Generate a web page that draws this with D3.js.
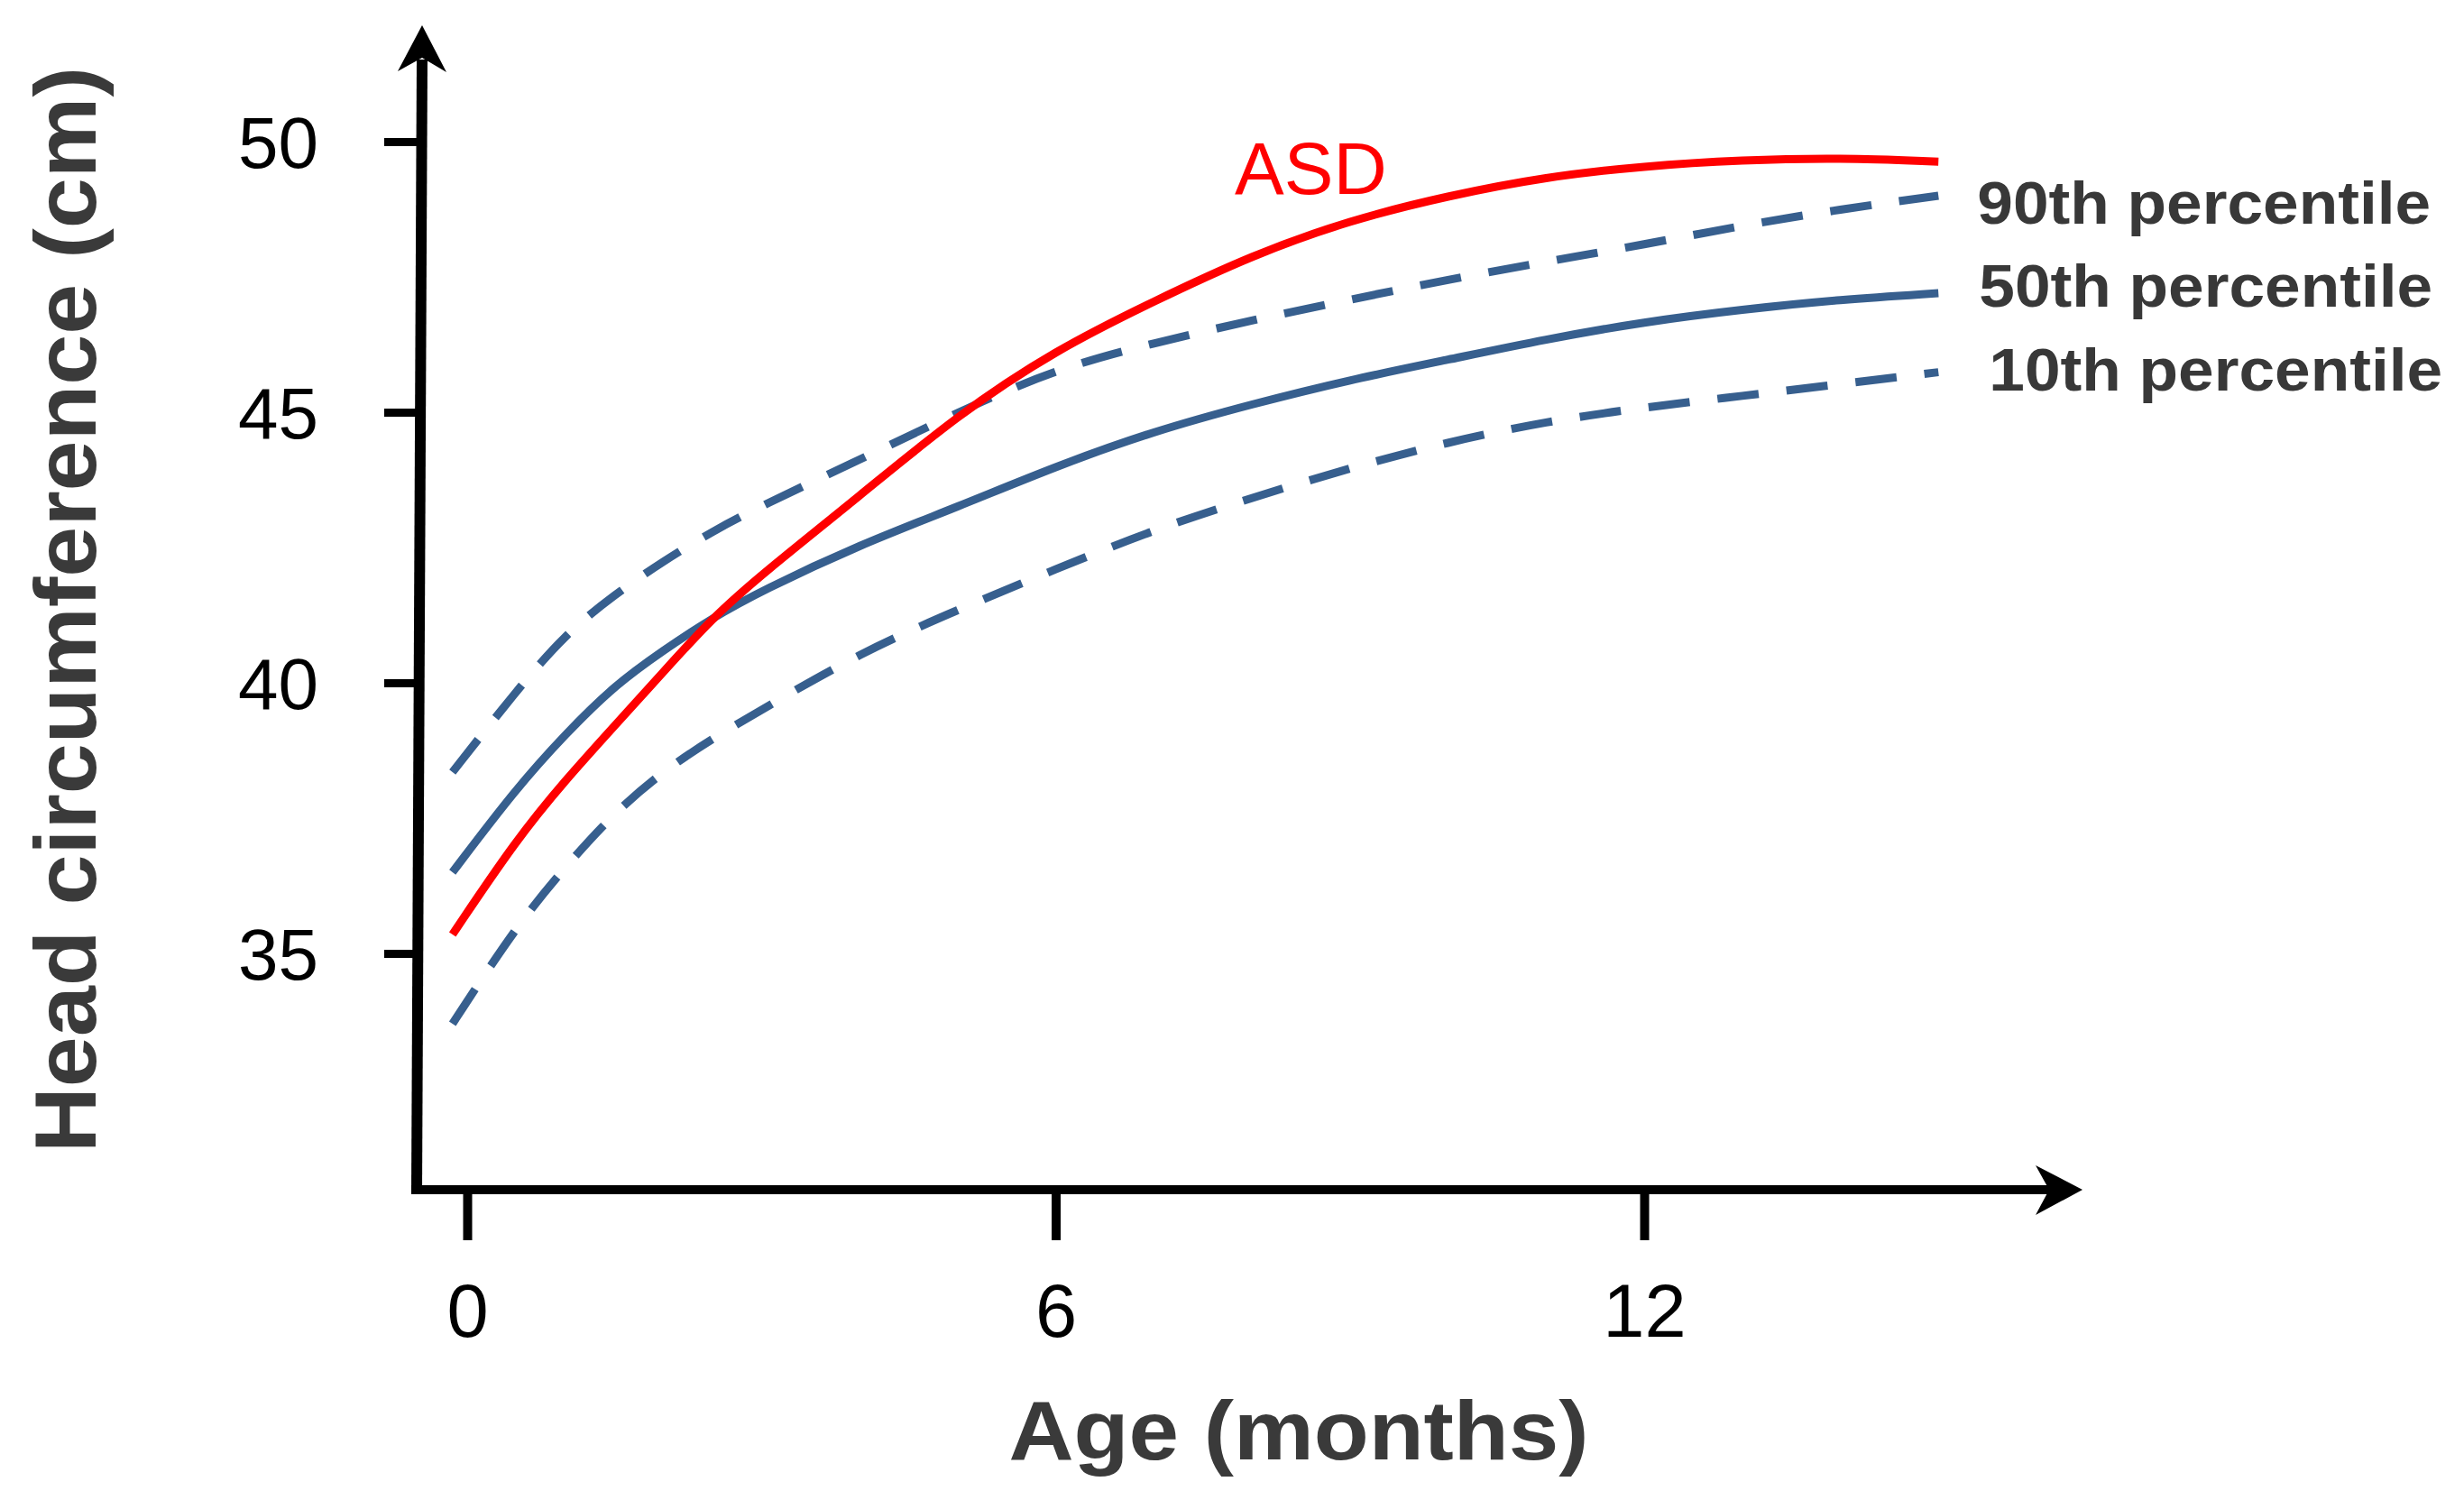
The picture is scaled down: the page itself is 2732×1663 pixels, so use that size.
<!DOCTYPE html>
<html lang="en">
<head>
    <meta charset="UTF-8">
    <title>Head circumference growth</title>
    <script src="https://d3js.org/d3.v7.min.js"></script>
    <style>
        body {
            margin: 0;
            background: #fff;
        }

        text {
            font-family: "Liberation Sans", Arial, sans-serif;
        }

        .tick line {
            stroke: #000;
        }

        .tick text {
            fill: #000;
        }
    </style>
</head>
<body>
<script>
    const months = [-0.15, 0.5, 1, 1.5, 2, 2.5, 3, 4, 5, 6, 7, 8, 9, 10, 11, 12, 13, 14, 15];

    //head circumference (cm)
    const asd = [35.35, 37.1, 38.2, 39.2, 40.2, 41.2, 42.0, 43.45, 44.95, 46.15, 47.05, 47.9, 48.55, 49.0, 49.35, 49.55, 49.66, 49.7, 49.63];
    const p90 = [38.35, 39.85, 40.9, 41.63, 42.25, 42.8, 43.27, 44.12, 45.0, 45.8, 46.28, 46.7, 47.08, 47.45, 47.78, 48.1, 48.45, 48.75, 49.0];
    const p50 = [36.5, 38.05, 39.05, 39.95, 40.6, 41.2, 41.7, 42.55, 43.25, 44.0, 44.65, 45.15, 45.6, 45.97, 46.35, 46.67, 46.9, 47.08, 47.2];
    const p10 = [33.7, 35.5, 36.6, 37.6, 38.37, 38.97, 39.5, 40.55, 41.35, 42.1, 42.83, 43.42, 43.97, 44.45, 44.83, 45.09, 45.3, 45.52, 45.74];

    //tick labels
    const xTicks = [0, 6, 12];
    const yTicks = [35, 40, 45, 50];

    const seriesNames = ['ASD', '90th percentile', '50th percentile', '10th percentile'];

    const width = 2732;
    const height = 1663;
    const blue = '#375f8e';

    const svg = d3.select('body').append('svg')
        .attr('width', width)
        .attr('height', height);

    svg.append('rect').attr('width', width).attr('height', height).attr('fill', '#fff');

    //scales
    const x = d3.scaleLinear().domain([0, 12]).range([518, 1823]);
    const y = d3.scaleLinear().domain([35, 50]).range([1057, 157]);

    const axisY = 1319;   //x axis sits here
    const axisX = 465;    //y axis sits here

    //y axis ticks + labels
    const gy = svg.append('g')
        .attr('transform', 'translate(' + (axisX - 1) + ',0)')
        .call(d3.axisLeft(y).tickValues(yTicks).tickSize(38).tickPadding(73));
    gy.select('.domain').remove();
    gy.selectAll('.tick line').attr('stroke-width', 9);
    gy.selectAll('.tick text').attr('font-size', 80).attr('dy', '0.36em');

    //x axis ticks + labels
    const gx = svg.append('g')
        .attr('transform', 'translate(0,' + axisY + ')')
        .call(d3.axisBottom(x).tickValues(xTicks).tickSize(56).tickPadding(48));
    gx.select('.domain').remove();
    gx.selectAll('.tick line').attr('stroke-width', 10);
    gx.selectAll('.tick text').attr('font-size', 83);

    //axis lines with arrow heads (slightly leaning y axis like the drawing)
    svg.append('path')
        .attr('d', 'M462,1324 L468,66')
        .attr('stroke', '#000').attr('stroke-width', 12).attr('fill', 'none');
    svg.append('path')
        .attr('d', 'M456,' + axisY + ' L2274,' + axisY)
        .attr('stroke', '#000').attr('stroke-width', 10).attr('fill', 'none');
    svg.append('path')
        .attr('d', 'M468,28 L441,79 L468,64 L495,80 Z')
        .attr('fill', '#000');
    svg.append('path')
        .attr('d', 'M2309,1319 L2257,1292 L2272,1319 L2257,1347 Z')
        .attr('fill', '#000');

    //curves, smoothed
    const line = d3.line()
        .x((d, i) => x(months[i]))
        .y(d => y(d))
        .curve(d3.curveBasis);

    const curves = [
        {vals: p90, color: blue, dash: '46,31'},
        {vals: p10, color: blue, dash: '46,31'},
        {vals: p50, color: blue, dash: null},
        {vals: asd, color: '#ff0000', dash: null}
    ];

    svg.append('g').selectAll('path')
        .data(curves)
        .enter()
        .append('path')
        .attr('d', d => line(d.vals))
        .attr('fill', 'none')
        .attr('stroke', d => d.color)
        .attr('stroke-width', 9)
        .attr('stroke-dasharray', d => d.dash);

    //series labels
    svg.append('text')
        .attr('x', 1369)
        .attr('y', 215)
        .attr('font-size', 82)
        .attr('fill', '#ff0000')
        .text(seriesNames[0]);

    const pctLabels = [
        {name: seriesNames[1], vals: p90, dx: 43, dy: 31},
        {name: seriesNames[2], vals: p50, dx: 45, dy: 15},
        {name: seriesNames[3], vals: p10, dx: 56, dy: 20}
    ];

    svg.append('g').selectAll('text')
        .data(pctLabels)
        .enter()
        .append('text')
        .attr('x', d => x(months[months.length - 1]) + d.dx)
        .attr('y', d => y(d.vals[d.vals.length - 1]) + d.dy)
        .attr('font-size', 67)
        .attr('font-weight', 'bold')
        .attr('fill', '#383838')
        .attr('textLength', 503)
        .attr('lengthAdjust', 'spacingAndGlyphs')
        .text(d => d.name);

    //axis titles
    svg.append('text')
        .attr('x', 1440)
        .attr('y', 1618)
        .attr('text-anchor', 'middle')
        .attr('font-size', 93)
        .attr('font-weight', 'bold')
        .attr('fill', '#3a3a3a')
        .attr('textLength', 643)
        .attr('lengthAdjust', 'spacingAndGlyphs')
        .text('Age (months)');

    svg.append('text')
        .attr('transform', 'translate(106,676) rotate(-90)')
        .attr('text-anchor', 'middle')
        .attr('font-size', 96)
        .attr('font-weight', 'bold')
        .attr('fill', '#3a3a3a')
        .attr('textLength', 1204)
        .attr('lengthAdjust', 'spacingAndGlyphs')
        .text('Head circumference (cm)');
</script>
</body>
</html>
